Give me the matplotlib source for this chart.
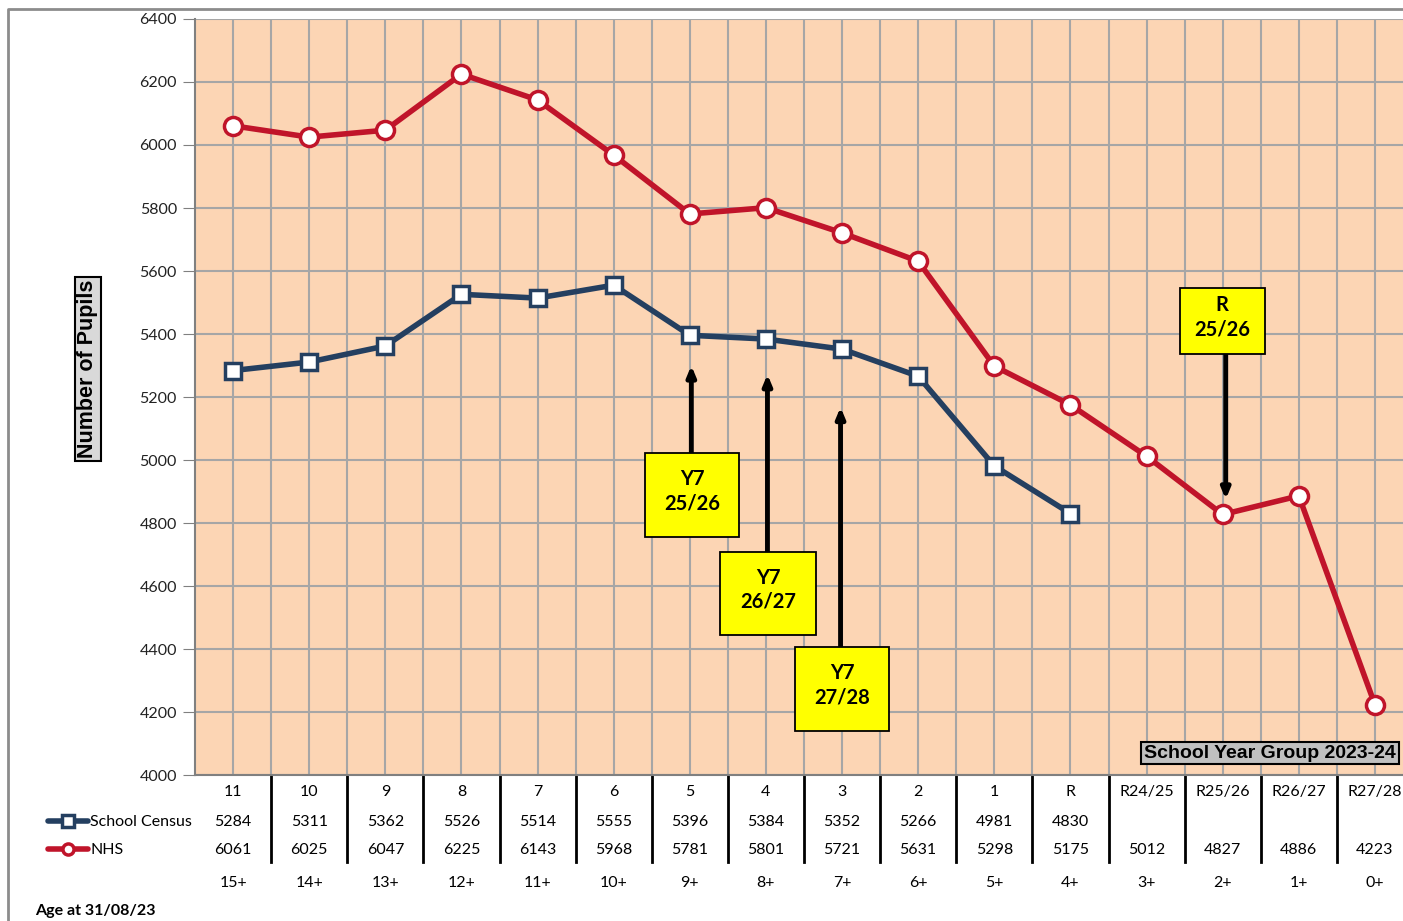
import numpy as np
import matplotlib
matplotlib.use('Agg')
import matplotlib.pyplot as plt
from matplotlib.patches import Rectangle
from matplotlib.lines import Line2D
import matplotlib.transforms as mtransforms

plt.rcParams['font.family'] = ['Lato', 'DejaVu Sans']

years = ['11', '10', '9', '8', '7', '6', '5', '4', '3', '2', '1', 'R',
         'R24/25', 'R25/26', 'R26/27', 'R27/28']
ages = ['15+', '14+', '13+', '12+', '11+', '10+', '9+', '8+', '7+', '6+',
        '5+', '4+', '3+', '2+', '1+', '0+']
census = [5284, 5311, 5362, 5526, 5514, 5555, 5396, 5384, 5352, 5266, 4981, 4830]
nhs = [6061, 6025, 6047, 6225, 6143, 5968, 5781, 5801, 5721, 5631, 5298, 5175,
       5012, 4827, 4886, 4223]

navy = '#243F60'
red = '#C0142A'

W, H = 1403, 921
fig = plt.figure(figsize=(W / 100, H / 100), dpi=100)
ax = fig.add_axes([195 / W, (H - 775) / H, (1413 - 195) / W, 756 / H])
ax.set_facecolor('#FCD5B4')

x = np.arange(len(years))
ax.plot(x[:len(census)], census, color=navy, lw=4, marker='s', ms=12,
        mfc='white', mec=navy, mew=2.5, zorder=4)
ax.plot(x, nhs, color=red, lw=4, marker='o', ms=13,
        mfc='white', mec=red, mew=2.5, zorder=4)

ax.set_xlim(-0.5, len(years) - 0.5)
ax.set_ylim(4000, 6400)
ax.set_yticks(np.arange(4000, 6401, 200))
ax.set_xticks(np.arange(0, len(years) - 0.4, 0.5))
ax.set_xticklabels([])
ax.tick_params(axis='x', length=0)
ax.tick_params(axis='y', length=9, color='#808080', labelsize=11.5, pad=4,
               labelcolor='#222222')
ax.grid(True, color='#A6A6A6', lw=1.5, zorder=0)
ax.set_axisbelow(True)
for s in ['top', 'right']:
    ax.spines[s].set_visible(False)
for s in ['left', 'bottom']:
    ax.spines[s].set_color('#808080')
    ax.spines[s].set_linewidth(1.5)

# annotations: yellow boxes with arrows
boxes = [
    ('Y7\n25/26', 5.41, 6.65, 4756, 5022, 6.02, 5022, 5300),
    ('Y7\n26/27', 6.40, 7.66, 4444, 4708, 7.02, 4708, 5272),
    ('Y7\n27/28', 7.385, 8.62, 4140, 4406, 7.98, 4406, 5168),
    ('R\n25/26', 12.44, 13.55, 5337, 5546, 13.04, 5337, 4875),
]
for txt, x0, x1, y0, y1, ax_x, a_from, a_to in boxes:
    ax.add_patch(Rectangle((x0, y0), x1 - x0, y1 - y0, fc='#FFFF00',
                           ec='black', lw=1.3, zorder=6))
    ax.text((x0 + x1) / 2, (y0 + y1) / 2 + 12, txt, ha='center', va='center',
            fontsize=14.5, fontweight='bold', linespacing=1.25, zorder=7)
    ax.annotate('', xy=(ax_x, a_to), xytext=(ax_x, a_from),
                arrowprops=dict(arrowstyle='-|>,head_length=0.6,head_width=0.25',
                                lw=3.5, color='black', shrinkA=0, shrinkB=0),
                zorder=5)

# data table under the axis
trans = mtransforms.blended_transform_factory(ax.transData, ax.transAxes)
def yf(px):
    return (775 - px) / 756

for i in range(len(years)):
    ax.text(i, yf(792), years[i], transform=trans, ha='center', va='center',
            fontsize=11.5, clip_on=False)
    if i < len(census):
        ax.text(i, yf(822), str(census[i]), transform=trans, ha='center',
                va='center', fontsize=11.5, clip_on=False)
    ax.text(i, yf(850), str(nhs[i]), transform=trans, ha='center', va='center',
            fontsize=11.5, clip_on=False)
    ax.text(i, yf(883), ages[i], transform=trans, ha='center', va='center',
            fontsize=11.5, clip_on=False)
    if i > 0:
        ax.plot([i - 0.5, i - 0.5], [0, yf(862)], transform=trans, color='black',
                lw=2, clip_on=False)

# legend keys in the table
def fx(px):
    return px / W
def fy(px):
    return (H - px) / H

fig.add_artist(Line2D([fx(48), fx(88)], [fy(821), fy(821)], color=navy, lw=4,
                      solid_capstyle='round'))
fig.add_artist(Line2D([fx(68)], [fy(821)], marker='s', ms=8, mfc='white',
                      mec=navy, mew=2.5, lw=0))
fig.text(fx(90), fy(822), 'School Census', ha='left', va='center', fontsize=11.5)
fig.add_artist(Line2D([fx(48), fx(88)], [fy(849), fy(849)], color=red, lw=4,
                      solid_capstyle='round'))
fig.add_artist(Line2D([fx(68)], [fy(849)], marker='o', ms=8, mfc='white',
                      mec=red, mew=2.5, lw=0))
fig.text(fx(90), fy(850), 'NHS', ha='left', va='center', fontsize=11.5)

fig.text(fx(35), fy(911), 'Age at 31/08/23', ha='left', va='center',
         fontsize=11.5, fontweight='bold')

fig.text(fx(88), fy(369), 'Number of Pupils', rotation=90, ha='center',
         va='center', fontsize=15.5, fontweight='bold', family='Liberation Sans',
         bbox=dict(boxstyle='square,pad=0.12', fc='#D9D9D9', ec='black', lw=1.5))

fig.text(fx(1396), fy(753), 'School Year Group 2023-24', ha='right', va='center',
         fontsize=14, fontweight='bold', family='Liberation Sans', zorder=8,
         bbox=dict(boxstyle='square,pad=0.15', fc='#C0C0C0', ec='black', lw=1.5))

# outer chart border
fig.add_artist(Line2D([fx(8), fx(8), fx(1403)], [fy(921), fy(9), fy(9)],
                      color='#8C8C8C', lw=2))

fig.savefig('out.png', dpi=100)
